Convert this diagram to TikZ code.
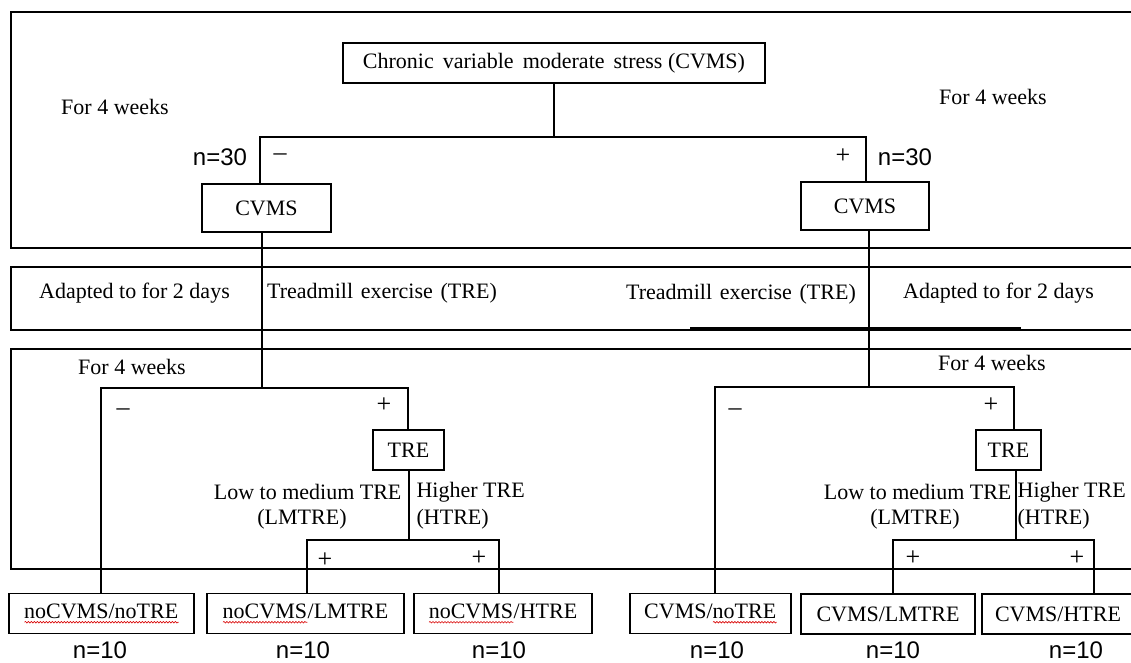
\documentclass[tikz,border=0pt]{standalone}
\usepackage{fontspec}
\setmainfont{Liberation Serif}
\newfontfamily\numfont{Liberation Sans}
\usetikzlibrary{decorations.pathmorphing}
\newdimen\wavewd
\newcommand\redwave[1]{\setbox0\hbox{#1}\wavewd=\wd0\rlap{\box0}\tikz[baseline=0pt,x=1pt,y=1pt]\draw[red!85!black,line width=0.6pt,decorate,decoration={snake,amplitude=0.8pt,segment length=3pt}] (0pt,-4pt) -- (\wavewd,-4pt);}
\newcommand\gap{\hspace{0.41em}}
\begin{document}
\begin{tikzpicture}[x=1pt,y=-1pt,line width=1.2pt,
  box/.style={draw,rectangle,inner sep=0pt,line width=1.3pt,font=\fontsize{22}{26}\selectfont},
  lbl/.style={inner sep=0pt,font=\fontsize{22}{26}\selectfont},
  num/.style={inner sep=0pt,font=\numfont\fontsize{24}{28}\selectfont},
  sgn/.style={inner sep=0pt,font=\fontsize{26}{30}\selectfont},
  frame/.style={line width=1.3pt}]
\useasboundingbox (0,0) rectangle (1131,662);
\fill[white] (0,0) rectangle (1131,662);
% frames
\draw[frame] (1135,12) -- (11,12) -- (11,248) -- (1135,248);
\draw[frame] (1135,267) -- (11,267) -- (11,330) -- (1135,330);
\draw[frame] (1135,349) -- (11,349) -- (11,569) -- (1135,569);
\draw[line width=2.6pt] (690,328.5) -- (1021,328.5);
% top nodes
\node[box,minimum width=422,minimum height=40] (chronic) at (554,63) {Chronic\gap variable\gap moderate\gap stress (CVMS)};
\node[box,minimum width=129,minimum height=48] (cvmsL) at (266.5,208) {CVMS};
\node[box,minimum width=128,minimum height=48] (cvmsR) at (865,206) {CVMS};
\coordinate (jTop) at (554,137);
\coordinate (jTopL) at (260,137);
\coordinate (jTopR) at (866,137);
\draw (chronic.south -| jTop) -- (jTop);
\draw (cvmsL.north -| jTopL) -- (jTopL) -- (jTopR) -- (cvmsR.north -| jTopR);
\node[lbl] (w1) at (115,107) {For 4 weeks};
\node[lbl] (w2) at (993,97) {For 4 weeks};
\node[num] (n30L) at (220,157) {n=30};
\node[sgn] (mL) at (280,157) {--};
\node[sgn] (pR) at (843,156) {+};
\node[num] (n30R) at (905,157) {n=30};
% middle frame texts
\node[lbl] (ad1) at (134.5,293) {Adapted to for 2 days};
\node[lbl] (tr1) at (382,293) {Treadmill\hspace{0.35em}exercise\hspace{0.35em}(TRE)};
\node[lbl] (tr2) at (741,294) {Treadmill\hspace{0.35em}exercise\hspace{0.35em}(TRE)};
\node[lbl] (ad2) at (998.5,293) {Adapted to for 2 days};
% lower frame
\node[lbl] (w3) at (132,367) {For 4 weeks};
\node[lbl] (w4) at (992,363) {For 4 weeks};
\node[box,minimum width=71,minimum height=40] (treL) at (408.5,450) {TRE};
\node[box,minimum width=65,minimum height=40] (treR) at (1008.5,450) {TRE};
% bottom boxes
\node[box,minimum width=185,minimum height=40] (b1) at (101.5,613.5) {\redwave{noCVMS/noTRE}};
\node[box,minimum width=197,minimum height=40] (b2) at (305.5,613.5) {\redwave{noCVMS}/LMTRE};
\node[box,minimum width=178,minimum height=40] (b3) at (503,613.5) {\redwave{noCVMS}/HTRE};
\node[box,minimum width=161,minimum height=40] (b4) at (710.5,613.5) {CVMS/\redwave{noTRE}};
\node[box,minimum width=174,minimum height=40] (b5) at (888,614) {CVMS/LMTRE};
\node[box,minimum width=152,minimum height=40] (b6) at (1058,614) {CVMS/HTRE};
% left tree connectors
\coordinate (hL) at (262,388);
\coordinate (hLa) at (101,388);
\coordinate (hLb) at (408,388);
\draw (cvmsL.south -| hL) -- (hL);
\draw (b1.north -| hLa) -- (hLa) -- (hLb) -- (treL.north -| hLb);
\coordinate (gL) at (409,540);
\coordinate (gLa) at (307,540);
\coordinate (gLb) at (499,540);
\draw (treL.south -| gL) -- (gL);
\draw (b2.north -| gLa) -- (gLa) -- (gLb) -- (b3.north -| gLb);
% right tree connectors
\coordinate (hR) at (869,387);
\coordinate (hRa) at (715,387);
\coordinate (hRb) at (1014,387);
\draw (cvmsR.south -| hR) -- (hR);
\draw (b4.north -| hRa) -- (hRa) -- (hRb) -- (treR.north -| hRb);
\coordinate (gR) at (1016,540);
\coordinate (gRa) at (893,540);
\coordinate (gRb) at (1094,540);
\draw (treR.south -| gR) -- (gR);
\draw (b5.north -| gRa) -- (gRa) -- (gRb) -- (b6.north -| gRb);
% signs
\node[sgn] (m2) at (123,412) {--};
\node[sgn] (p2) at (384,405) {+};
\node[sgn] (p3) at (325,560) {+};
\node[sgn] (p4) at (479,558) {+};
\node[sgn] (m3) at (735,412) {--};
\node[sgn] (p5) at (991,405) {+};
\node[sgn] (p6) at (913,558) {+};
\node[sgn] (p7) at (1077,558) {+};
% branch labels
\node[lbl,anchor=east] (lmL) at (402,492) {Low to medium TRE};
\node[lbl] (lmL2) at (302,519) {(LMTRE)};
\node[lbl,anchor=west] (hiL) at (416,492) {Higher TRE};
\node[lbl,anchor=west] (hiL2) at (416,519) {(HTRE)};
\node[lbl,anchor=east] (lmR) at (1012,492) {Low to medium TRE};
\node[lbl] (lmR2) at (915,519) {(LMTRE)};
\node[lbl,anchor=west] (hiR) at (1017,492) {Higher TRE};
\node[lbl,anchor=west] (hiR2) at (1017,519) {(HTRE)};
% n=10
\node[num] (c1) at (100,650) {n=10};
\node[num] (c2) at (303,650) {n=10};
\node[num] (c3) at (499,650) {n=10};
\node[num] (c4) at (717,650) {n=10};
\node[num] (c5) at (893,650) {n=10};
\node[num] (c6) at (1076,650) {n=10};
\end{tikzpicture}
\end{document}
